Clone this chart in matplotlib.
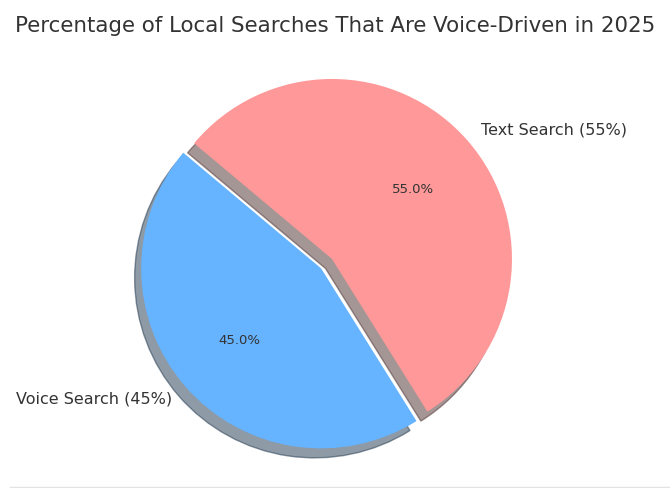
import matplotlib
matplotlib.use("Agg")
import matplotlib.pyplot as plt
from matplotlib.lines import Line2D

labels = ['Voice Search (45%)', 'Text Search (55%)']
sizes = [45, 55]
colors = ['#66b3ff', '#ff9999']
explode = [0.08, 0]

fig = plt.figure(figsize=(6.7, 4.89), dpi=100)
ax = fig.add_axes([0.2, 0.0634, 0.591, 0.81])

wedges, texts, autotexts = ax.pie(sizes, labels=labels, colors=colors, explode=explode,
                                  autopct='%1.1f%%', startangle=140,
                                  shadow={'ox': -0.026, 'oy': -0.038},
                                  textprops={'color': '#333333'})
for t in texts:
    t.set_fontsize(11.5)
for t in autotexts:
    t.set_fontsize(9.5)
ax.set_xlim(-1.1, 1.1)
ax.set_ylim(-1.1, 1.1)
ax.set_aspect('equal')

fig.text(0.5, 0.947, 'Percentage of Local Searches That Are Voice-Driven in 2025',
         ha='center', va='center', fontsize=15.4, color='#333333')

# faint rule along the bottom
fig.add_artist(Line2D([0.015, 1.0], [0.002, 0.002], color='#e3e3e3', lw=1))

plt.savefig("out.png", dpi=100)
